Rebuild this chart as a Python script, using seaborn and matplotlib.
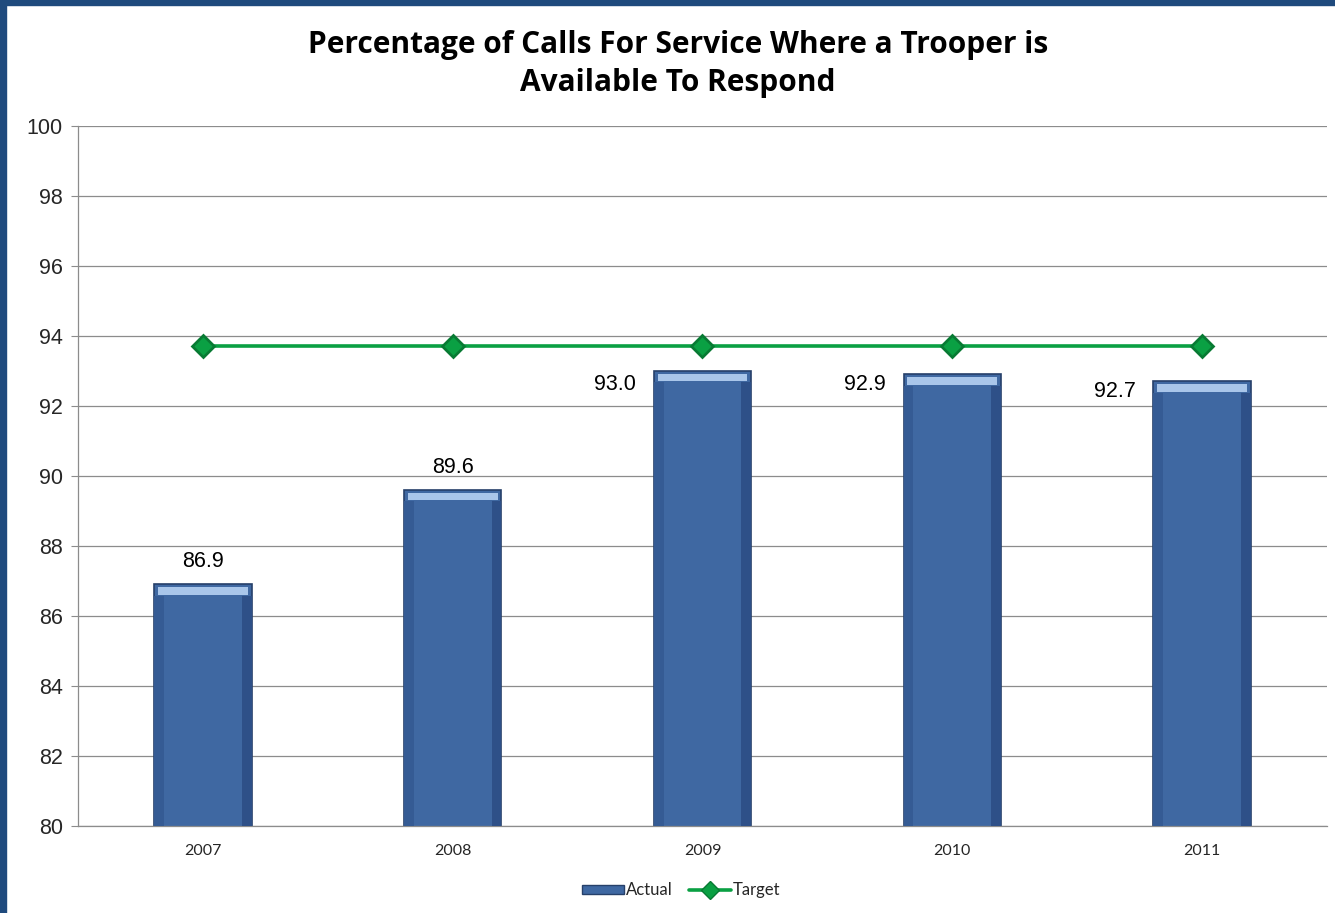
import matplotlib
matplotlib.use("Agg")
import matplotlib.pyplot as plt
from matplotlib.patches import Rectangle
from matplotlib.lines import Line2D
import seaborn as sns
import pandas as pd

years = ["2007", "2008", "2009", "2010", "2011"]
actual = [86.9, 89.6, 93.0, 92.9, 92.7]
target = [93.7, 93.7, 93.7, 93.7, 93.7]

df = pd.DataFrame({"year": years, "actual": actual, "target": target})

sns.set_style("white")
plt.rcParams["font.family"] = ["Liberation Sans", "DejaVu Sans"]

fig = plt.figure(figsize=(13.35, 9.13), dpi=100)
ax = fig.add_axes([0.0584, 0.0953, 0.9356, 0.7667])

bar_col = "#3f68a2"
sns.barplot(data=df, x="year", y="actual", color=bar_col, width=0.39,
            edgecolor="#26406a", linewidth=1.2, saturation=1, ax=ax, zorder=2)

# light bevel on top of each bar, darker sides
for p in ax.patches:
    ax.add_patch(Rectangle((p.get_x() + 0.015, p.get_height() - 0.3),
                           p.get_width() - 0.03, 0.22,
                           color="#a9c6ea", zorder=3, lw=0))
    ax.add_patch(Rectangle((p.get_x(), 80), p.get_width() * 0.1,
                           p.get_height() - 80.32,
                           color="#355b94", zorder=3, lw=0))
    ax.add_patch(Rectangle((p.get_x() + p.get_width() * 0.9, 80),
                           p.get_width() * 0.1, p.get_height() - 80.32,
                           color="#2e5088", zorder=3, lw=0))

sns.pointplot(data=df, x="year", y="target", color="#0aa043",
              markers="D", markersize=11, linewidth=2.6, ax=ax, zorder=4,
              markeredgecolor="#087a33")

for i, v in enumerate(actual):
    if target[i] - v < 1.5:
        # too close to the target line: put label left of the bar top
        ax.text(i - 0.35, min(v, 92.9) - 0.3, f"{v:.1f}", ha="center",
                va="center", fontsize=15.5, color="black")
    else:
        ax.text(i, v + 0.35, f"{v:.1f}", ha="center", va="bottom",
                fontsize=15.5, color="black")

ax.set_ylim(80, 100)
ax.set_xlim(-0.5, 4.5)
ax.set_yticks(range(80, 101, 2))
ax.yaxis.grid(True, color="#8c8c8c", linewidth=0.9)
ax.set_axisbelow(True)
for s in ["top", "right"]:
    ax.spines[s].set_visible(False)
for s in ["left", "bottom"]:
    ax.spines[s].set_color("#8c8c8c")
    ax.spines[s].set_linewidth(0.9)
ax.tick_params(axis="y", labelsize=15.5, length=5, color="#8c8c8c",
               left=True, pad=6)
ax.tick_params(axis="x", length=0, pad=13)
for t in ax.get_xticklabels():
    t.set_fontsize(11.5)
    t.set_family(["Lato", "DejaVu Sans"])
ax.set_xlabel("")
ax.set_ylabel("")

fig.text(0.508, 0.967, "Percentage of Calls For Service Where a Trooper is\nAvailable To Respond",
         ha="center", va="top", fontsize=21.5, fontweight="bold", color="black",
         family=["Open Sans", "DejaVu Sans"], linespacing=1.33)

handles = [Rectangle((0, 0), 1, 1, facecolor=bar_col, edgecolor="#26406a"),
           Line2D([], [], color="#0aa043", marker="D", markersize=9,
                  markeredgecolor="#087a33", linewidth=2.6)]
leg = ax.legend(handles, ["Actual", "Target"], loc="center",
                bbox_to_anchor=(0.483, -0.092), ncol=2, frameon=False,
                handlelength=2.5, handleheight=0.4, handletextpad=0.1,
                columnspacing=1.0,
                prop={"family": ["Lato", "DejaVu Sans"], "size": 12})

# dark blue frame on left and top edges
fig.patches.append(Rectangle((0, 0), 0.0045, 1, transform=fig.transFigure,
                             color="#1f4a7d", zorder=10))
fig.patches.append(Rectangle((0, 0.994), 1, 0.006, transform=fig.transFigure,
                             color="#1f4a7d", zorder=10))

fig.savefig("out.png", dpi=100)
